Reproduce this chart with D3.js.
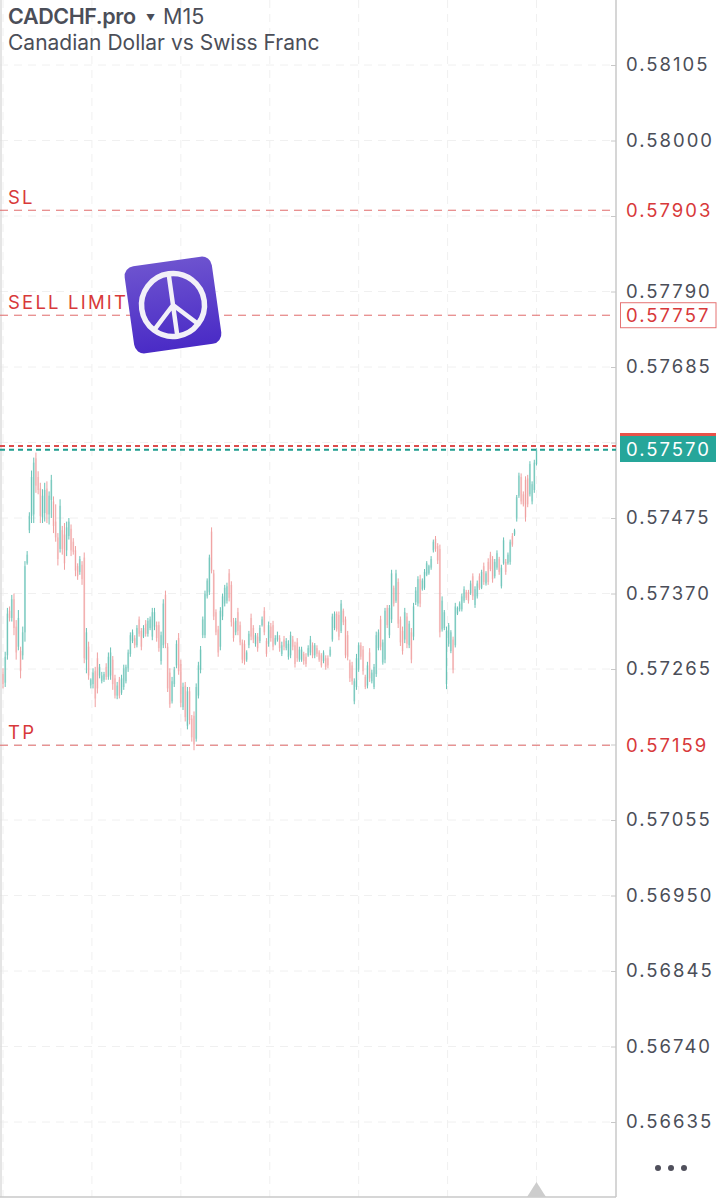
<!DOCTYPE html>
<html>
<head>
<meta charset="utf-8">
<script src="https://cdn.jsdelivr.net/npm/d3@7"></script>
<style>
html, body { margin: 0; padding: 0; background: #fff; }
text { font-family: Inter, "Noto Sans", sans-serif; }
</style>
</head>
<body>
<div id="chart"></div>
<script>
// prices are kept in points (1 point = 0.00001)
const priceTicks = [58105, 58000, 57895, 57790, 57685, 57580, 57475, 57370, 57265, 57160, 57055, 56950, 56845, 56740, 56635];
const hiddenTicks = [57895, 57580, 57160];
const timeGrid = [0, 40.5, 81, 121.5, 162, 202.5, 243];

const levelNames = ['SL', 'SELL LIMIT', 'TP'];
const levelPrices = [57903, 57757, 57159];
const bidPrice = 57570;
const askPrice = 57575;

const highs = [
57266,57289,57350,57352,57368,57370,57333,57347,57296,57324,
57415,57429,57483,57541,57559,57566,57540,57524,57515,57524,
57526,57512,57535,57505,57494,57454,57501,57464,57468,57470,
57475,57466,57447,57436,57412,57422,57415,57427,57322,57303,
57252,57266,57268,57288,57272,57261,57261,57273,57288,57295,
57283,57257,57247,57254,57257,57271,57271,57292,57316,57320,
57312,57326,57338,57322,57326,57333,57336,57338,57350,57350,
57331,57331,57317,57362,57374,57301,57266,57254,57268,57305,
57315,57278,57246,57247,57240,57240,57201,57206,57245,57275,
57297,57338,57374,57391,57424,57462,57403,57348,57325,57351,
57370,57382,57385,57404,57387,57336,57336,57350,57331,57306,
57305,57291,57318,57342,57326,57315,57315,57326,57338,57351,
57308,57331,57329,57332,57312,57317,57312,57303,57311,57308,
57305,57317,57311,57303,57308,57296,57296,57289,57287,57298,
57311,57302,57301,57298,57291,57287,57291,57284,57284,57296,
57342,57345,57345,57345,57361,57349,57338,57318,57278,57275,
57252,57286,57302,57302,57297,57257,57275,57294,57264,57272,
57317,57320,57339,57306,57350,57354,57354,57403,57381,
57403,57391,57338,57324,57350,57343,57332,57322,57357,
57379,57394,57396,57391,57404,57415,57410,57422,57445,
57450,57440,57438,57366,57347,57324,57329,57319,57310,57357,
57352,57359,57370,57380,57375,57375,57388,57398,57380,
57388,57398,57403,57413,57401,57419,57428,57422,
57418,57430,57421,57410,57448,57418,57427,57445,57454,57460,
57507,57538,57537,57512,57533,57535,57554,57526,
57556,57572];

const lows = [
57238,57240,57278,57331,57331,57312,57278,57291,57252,57278,
57303,57410,57454,57468,57468,57510,57508,57468,57468,57470,
57468,57466,57475,57454,57442,57409,57427,57424,57403,57422,
57445,57422,57424,57394,57389,57396,57382,57273,57259,57250,
57238,57238,57212,57231,57252,57245,57247,57250,57250,57250,
57236,57224,57223,57224,57229,57236,57245,57261,57282,57301,
57294,57295,57310,57291,57308,57310,57310,57319,57305,57319,
57303,57289,57271,57294,57294,57233,57211,57217,57240,57266,
57257,57212,57208,57192,57181,57188,57164,57152,57164,57224,
57259,57308,57308,57363,57368,57398,57333,57312,57282,57291,
57333,57352,57356,57359,57324,57303,57312,57312,57298,57273,
57271,57275,57294,57305,57301,57296,57289,57301,57324,57312,
57282,57296,57303,57291,57298,57303,57289,57283,57291,57291,
57278,57280,57291,57267,57275,57275,57275,57271,57268,57282,
57284,57280,57280,57282,57275,57267,57273,57264,57266,57282,
57303,57319,57317,57305,57315,57326,57280,57277,57247,57243,
57216,57236,57261,57278,57257,57237,57238,57247,57245,57237,
57254,57291,57291,57271,57273,57322,57308,57329,57352,
57357,57322,57297,57285,57301,57294,57294,57273,57305,
57354,57352,57351,57374,57375,57394,57396,57403,57427,
57428,57411,57309,57317,57319,57237,57296,57287,57259,57295,
57340,57345,57345,57357,57361,57356,57368,57361,57350,
57363,57375,57376,57382,57381,57382,57401,57385,
57391,57403,57396,57377,57410,57396,57410,57410,57435,57450,
57470,57503,57494,57491,57470,57490,57505,57494,
57510,57548];

const opens = [
57258,57246,57284,57346,57336,57362,57324,57296,57290,57284,
57316,57412,57458,57478,57480,57558,57532,57516,57476,57482,
57516,57480,57500,57498,57470,57448,57432,57458,57452,57430,
57450,57460,57442,57430,57408,57400,57410,57420,57278,57296,
57242,57244,57262,57280,57256,57248,57250,57268,57254,57256,
57278,57252,57228,57250,57232,57240,57248,57266,57286,57304,
57308,57298,57334,57318,57310,57328,57314,57322,57310,57324,
57326,57326,57276,57298,57368,57296,57260,57220,57244,57270,
57308,57272,57212,57242,57186,57234,57196,57200,57168,57228,
57264,57312,57312,57366,57372,57456,57398,57344,57320,57296,
57338,57356,57360,57398,57382,57330,57316,57344,57326,57302,
57300,57278,57298,57336,57322,57300,57310,57304,57326,57346,
57304,57300,57324,57326,57300,57306,57308,57286,57306,57294,
57282,57284,57306,57298,57302,57278,57278,57286,57282,57284,
57288,57298,57284,57294,57288,57284,57276,57280,57280,57284,
57306,57322,57342,57340,57318,57346,57334,57312,57274,57270,
57220,57240,57264,57298,57292,57254,57242,57288,57248,57240,
57258,57294,57334,57274,57278,57350,57312,57334,57378,
57360,57386,57334,57318,57306,57338,57298,57316,57310,
57358,57356,57390,57376,57378,57396,57398,57406,57430,
57446,57436,57432,57320,57322,57244,57300,57290,57306,57298,
57342,57348,57348,57360,57372,57372,57370,57394,57354,
57366,57394,57378,57408,57384,57414,57424,57418,
57394,57406,57418,57380,57412,57414,57412,57414,57450,57452,
57474,57506,57532,57508,57528,57530,57508,57498,
57514,57550];

const closes = [
57244,57282,57342,57336,57362,57322,57288,57336,57262,57316,
57408,57424,57478,57532,57552,57520,57514,57478,57506,57514,
57480,57506,57528,57464,57448,57418,57492,57432,57412,57462,
57470,57430,57428,57402,57394,57418,57390,57280,57316,57256,
57250,57260,57224,57238,57268,57256,57258,57254,57282,57288,
57244,57228,57242,57228,57252,57266,57268,57288,57312,57316,
57298,57322,57314,57296,57322,57314,57332,57334,57344,57344,
57308,57294,57312,57356,57300,57238,57216,57248,57264,57300,
57262,57218,57240,57198,57234,57194,57170,57160,57240,57270,
57292,57334,57370,57388,57420,57402,57338,57316,57288,57346,
57366,57378,57380,57364,57330,57308,57332,57318,57302,57278,
57276,57288,57314,57310,57306,57312,57294,57322,57334,57316,
57286,57326,57308,57296,57308,57312,57294,57298,57296,57304,
57300,57312,57296,57272,57280,57292,57292,57276,57272,57294,
57306,57284,57298,57286,57278,57270,57288,57268,57270,57292,
57338,57342,57320,57310,57356,57330,57284,57282,57252,57248,
57248,57280,57298,57282,57262,57240,57270,57252,57260,57268,
57312,57316,57296,57302,57346,57326,57350,57398,57356,
57398,57328,57302,57290,57344,57300,57328,57278,57352,
57374,57390,57356,57388,57400,57412,57408,57418,57442,
57432,57416,57316,57360,57344,57318,57326,57316,57264,57352,
57350,57356,57366,57376,57364,57360,57384,57366,57376,
57384,57378,57400,57386,57398,57386,57404,57390,
57414,57426,57400,57406,57444,57400,57424,57442,57438,57458,
57504,57534,57498,57494,57476,57494,57550,57522,
57552,57570];

const width = 727, height = 1200;
const plotRight = 616, plotBottom = 1197;
const upColor = '#68c2b6', downColor = '#f0a0a0';
const redText = '#d8393a', textColor = '#4b4e58', gridColor = '#f0f0f0', axisColor = '#c8c8c8';
const priceFont = '18.5px', priceSpacing = '2px';

const svg = d3.select('#chart').append('svg')
    .attr('width', width)
    .attr('height', height)
    .style('display', 'block');

const x = d3.scaleLinear().domain([0, 243]).range([3, 536.5]);
const y = d3.scaleLinear().domain([58105, 56635]).range([65, 1122]);

// grid
svg.append('g').selectAll('line').data(priceTicks).enter().append('line')
    .attr('x1', 0).attr('x2', plotRight)
    .attr('y1', d => y(d)).attr('y2', d => y(d))
    .attr('stroke', gridColor).attr('stroke-width', 1).attr('stroke-dasharray', '8 6');

svg.append('g').selectAll('line').data(timeGrid).enter().append('line')
    .attr('x1', d => x(d)).attr('x2', d => x(d))
    .attr('y1', 0).attr('y2', plotBottom)
    .attr('stroke', gridColor).attr('stroke-width', 1).attr('stroke-dasharray', '8 6');

// candles
const bars = svg.append('g');
highs.forEach((h, i) => {
    const color = closes[i] >= opens[i] ? upColor : downColor;
    const cx = x(i);
    bars.append('rect')
        .attr('x', cx - 1)
        .attr('y', y(Math.max(opens[i], closes[i])))
        .attr('width', 2)
        .attr('height', Math.abs(y(opens[i]) - y(closes[i])))
        .attr('fill', color)
        .attr('opacity', 0.35);
    bars.append('line')
        .attr('x1', cx).attr('x2', cx)
        .attr('y1', y(h)).attr('y2', y(lows[i]))
        .attr('stroke', color).attr('stroke-width', 1);
});

// frame
svg.append('line').attr('x1', 1).attr('x2', 1).attr('y1', 0).attr('y2', plotBottom)
    .attr('stroke', '#dcdcdc').attr('stroke-width', 1.5);
svg.append('line').attr('x1', 0).attr('x2', plotRight).attr('y1', plotBottom).attr('y2', plotBottom)
    .attr('stroke', axisColor).attr('stroke-width', 1.5);

// price axis
const axis = d3.axisRight(y)
    .tickValues(priceTicks)
    .tickSize(5)
    .tickPadding(5)
    .tickFormat(d => hiddenTicks.includes(d) ? '' : (d / 1e5).toFixed(5));

const axisG = svg.append('g')
    .attr('transform', `translate(${plotRight},0)`)
    .call(axis);
axisG.select('.domain').remove();
axisG.selectAll('.tick line').attr('stroke', axisColor).attr('x1', -5).attr('x2', 0);
axisG.selectAll('.tick text')
    .attr('fill', textColor)
    .style('font-size', priceFont)
    .style('letter-spacing', priceSpacing);
svg.append('line').attr('x1', plotRight).attr('x2', plotRight).attr('y1', 0).attr('y2', plotBottom)
    .attr('stroke', axisColor).attr('stroke-width', 1.5);

// order levels
levelPrices.forEach((p, i) => {
    svg.append('line')
        .attr('x1', 0).attr('x2', plotRight)
        .attr('y1', y(p)).attr('y2', y(p))
        .attr('stroke', '#e06a6a').attr('stroke-width', 1).attr('stroke-dasharray', '8 6');
    svg.append('text')
        .attr('x', 8).attr('y', y(p) - 6)
        .attr('fill', redText)
        .style('font-size', '18.5px')
        .style('letter-spacing', '2.2px')
        .text(levelNames[i]);
    svg.append('text')
        .attr('x', 626).attr('y', y(p) + 6.5)
        .attr('fill', redText)
        .style('font-size', priceFont)
        .style('letter-spacing', priceSpacing)
        .text((p / 1e5).toFixed(5));
});
svg.append('rect')
    .attr('x', 620.5).attr('y', y(levelPrices[1]) - 12.5)
    .attr('width', 95.5).attr('height', 25)
    .attr('fill', 'none').attr('stroke', '#e57373').attr('stroke-width', 1);

// bid / ask lines
svg.append('line')
    .attr('x1', 0).attr('x2', plotRight)
    .attr('y1', y(askPrice)).attr('y2', y(askPrice))
    .attr('stroke', '#dd4b4b').attr('stroke-width', 2).attr('stroke-dasharray', '5 4');
svg.append('line')
    .attr('x1', 0).attr('x2', plotRight)
    .attr('y1', y(bidPrice)).attr('y2', y(bidPrice))
    .attr('stroke', '#1f9d8f').attr('stroke-width', 2).attr('stroke-dasharray', '5 4');

svg.append('rect').attr('x', 620).attr('y', 433).attr('width', 96).attr('height', 3).attr('fill', '#e8524a');
svg.append('rect').attr('x', 620).attr('y', 436).attr('width', 96).attr('height', 26).attr('fill', '#26a69a');
svg.append('text')
    .attr('x', 626).attr('y', y(bidPrice) + 6.5)
    .attr('fill', '#fff')
    .style('font-size', priceFont)
    .style('letter-spacing', priceSpacing)
    .text((bidPrice / 1e5).toFixed(5));

// header
svg.append('text').attr('x', 8).attr('y', 24).attr('fill', textColor)
    .style('font-size', '21.5px').style('font-weight', 600).style('letter-spacing', '-0.4px').text('CADCHF.pro');
svg.append('text').attr('x', 146).attr('y', 21).attr('fill', textColor).style('font-size', '9px').text('▼');
svg.append('text').attr('x', 163).attr('y', 24).attr('fill', textColor).style('font-size', '21.5px').text('M15');
svg.append('text').attr('x', 8).attr('y', 50).attr('fill', textColor)
    .style('font-size', '21px').text('Canadian Dollar vs Swiss Franc');

// more menu and scroll marker
svg.append('g').selectAll('circle').data([658, 671, 684]).enter().append('circle')
    .attr('cx', d => d).attr('cy', 1168).attr('r', 3).attr('fill', '#50505c');
svg.append('path')
    .attr('d', d3.line()([[527, 1197], [536.5, 1182], [546, 1197]]))
    .attr('fill', '#cdcdcd');

// sticker
const defs = svg.append('defs');
const grad = defs.append('linearGradient').attr('id', 'stickerFill')
    .attr('x1', 0).attr('y1', 0).attr('x2', 0).attr('y2', 1);
grad.append('stop').attr('offset', 0).attr('stop-color', '#6d53cf');
grad.append('stop').attr('offset', 1).attr('stop-color', '#4a2bc6');

const sticker = svg.append('g').attr('transform', 'translate(173,305) rotate(-8)');
sticker.append('rect')
    .attr('x', -44).attr('y', -44).attr('width', 88).attr('height', 88).attr('rx', 10)
    .attr('fill', 'url(#stickerFill)');
sticker.append('circle').attr('r', 31.5).attr('fill', 'none').attr('stroke', '#f2f0f8').attr('stroke-width', 5.5);
sticker.append('path')
    .attr('d', d3.line()([[0, -31], [0, 31]]) + d3.line()([[0, 0], [-22, 22]]) + d3.line()([[0, 0], [22, 22]]))
    .attr('fill', 'none').attr('stroke', '#f2f0f8').attr('stroke-width', 4.5);
</script>
</body>
</html>
